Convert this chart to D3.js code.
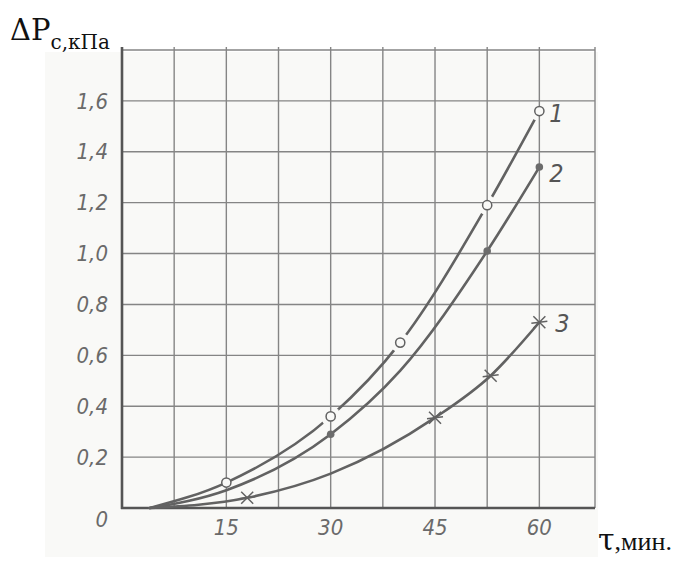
<!DOCTYPE html>
<html>
<head>
<meta charset="utf-8">
<script src="https://cdn.jsdelivr.net/npm/d3@7"></script>
<style>
  html, body { margin: 0; padding: 0; background: #ffffff; }
  svg { display: block; }
</style>
</head>
<body>
<svg id="chart" width="681" height="561"></svg>
<script>
// Time axis (minutes) and pressure-drop axis (kPa)
const xTicks = [15, 30, 45, 60];
const xGrid = [0, 7.5, 15, 22.5, 30, 37.5, 45, 52.5, 60];
const yTicks = [0, 0.2, 0.4, 0.6, 0.8, 1.0, 1.2, 1.4, 1.6];
const yTickLabels = ["0", "0,2", "0,4", "0,6", "0,8", "1,0", "1,2", "1,4", "1,6"];

// Curve 1: open circles at measured points
const curve1X = [4, 15, 30, 40, 52.5, 60];
const curve1Y = [0, 0.10, 0.36, 0.65, 1.19, 1.56];
const curve1Marked = [false, true, true, true, true, true];

// Curve 2: filled dots at measured points
const curve2X = [4, 15, 30, 40, 52.5, 60];
const curve2Y = [0, 0.07, 0.29, 0.54, 1.01, 1.34];
const curve2Marked = [false, false, true, false, true, true];

// Curve 3: star marks at measured points
const curve3X = [4, 18, 30, 45, 53, 60];
const curve3Y = [0, 0.04, 0.135, 0.355, 0.52, 0.73];
const curve3Marked = [false, true, false, true, true, true];

const curveNames = ["1", "2", "3"];

const svg = d3.select("#chart");
const paper = "#f9f9f7";
const ink = "#626262";

// Paper sheet behind the plot
svg.append("rect")
  .attr("x", 45).attr("y", 52).attr("width", 553).attr("height", 505)
  .attr("fill", paper);

const x = d3.scaleLinear().domain([0, 68]).range([122, 595]);
const y = d3.scaleLinear().domain([0, 1.8]).range([508, 50]);

// Grid
const grid = svg.append("g");
grid.selectAll("line.v").data(xGrid.slice(1).concat([68])).join("line")
  .attr("x1", d => x(d)).attr("x2", d => x(d))
  .attr("y1", y(1.8) - 3).attr("y2", y(0))
  .attr("stroke", "#858585").attr("stroke-width", 1.4);
grid.selectAll("line.h").data(yTicks.slice(1).concat([1.8])).join("line")
  .attr("x1", x(0)).attr("x2", x(68))
  .attr("y1", d => y(d)).attr("y2", d => y(d))
  .attr("stroke", "#858585").attr("stroke-width", 1.4);

// Main axes
svg.append("line")
  .attr("x1", x(0)).attr("x2", x(0)).attr("y1", y(1.8) - 3).attr("y2", y(0) + 1)
  .attr("stroke", "#555").attr("stroke-width", 2.6);
svg.append("line")
  .attr("x1", x(0) - 1).attr("x2", x(68)).attr("y1", y(0)).attr("y2", y(0))
  .attr("stroke", "#555").attr("stroke-width", 2.6);

// Tick labels
const tickFont = "'DejaVu Sans Condensed', 'Liberation Sans', sans-serif";
svg.append("g").selectAll("text").data(yTicks).join("text")
  .attr("x", 108)
  .attr("y", (d, i) => y(d) + (d === 0 ? 11 : 0))
  .attr("dy", "0.35em")
  .attr("text-anchor", "end")
  .attr("font-family", tickFont).attr("font-style", "italic")
  .attr("font-size", 22).attr("fill", "#6a6a6a")
  .text((d, i) => yTickLabels[i]);
svg.append("g").selectAll("text").data(xTicks).join("text")
  .attr("x", d => x(d))
  .attr("y", 527).attr("dy", "0.35em")
  .attr("text-anchor", "middle")
  .attr("font-family", tickFont).attr("font-style", "italic")
  .attr("font-size", 22).attr("fill", "#6a6a6a")
  .text(d => d);

// Curves
const series = [
  { xs: curve1X, ys: curve1Y, marked: curve1Marked },
  { xs: curve2X, ys: curve2Y, marked: curve2Marked },
  { xs: curve3X, ys: curve3Y, marked: curve3Marked }
].map(s => s.xs.map((v, i) => ({ t: v, p: s.ys[i], m: s.marked[i] })));

const line = d3.line().x(d => x(d.t)).y(d => y(d.p)).curve(d3.curveMonotoneX);

// Curve 1 is drawn broken around its circles
const defs = svg.append("defs");
const mask = defs.append("mask").attr("id", "gaps1")
  .attr("maskUnits", "userSpaceOnUse")
  .attr("x", 0).attr("y", 0).attr("width", 681).attr("height", 561);
mask.append("rect").attr("width", 681).attr("height", 561).attr("fill", "white");
mask.selectAll("circle").data(series[0].filter(d => d.m && d.t > 20)).join("circle")
  .attr("cx", d => x(d.t)).attr("cy", d => y(d.p)).attr("r", 10).attr("fill", "black");

series.forEach((pts, i) => {
  svg.append("path")
    .datum(pts)
    .attr("d", line)
    .attr("fill", "none")
    .attr("stroke", ink)
    .attr("stroke-width", 2.6)
    .attr("stroke-linecap", "round")
    .attr("mask", i === 0 ? "url(#gaps1)" : null);
});

// Markers
svg.append("g").selectAll("circle").data(series[0].filter(d => d.m)).join("circle")
  .attr("cx", d => x(d.t)).attr("cy", d => y(d.p)).attr("r", 4.6)
  .attr("fill", paper).attr("stroke", ink).attr("stroke-width", 1.5);
svg.append("g").selectAll("circle").data(series[1].filter(d => d.m)).join("circle")
  .attr("cx", d => x(d.t)).attr("cy", d => y(d.p)).attr("r", 3.8)
  .attr("fill", "#6c6c6c");
svg.append("g").selectAll("path").data(series[2].filter(d => d.m)).join("path")
  .attr("transform", d => `translate(${x(d.t)},${y(d.p)})`)
  .attr("d", "M-6,-6L6,6M-6,6L6,-6M-8,1L8,-1")
  .attr("fill", "none").attr("stroke", ink).attr("stroke-width", 1.5);

// Curve numbers next to the last points
const labelOffsets = [[17, 2], [17, 6], [23, 1]];
svg.append("g").selectAll("text").data(series).join("text")
  .attr("x", (d, i) => x(d[d.length - 1].t) + labelOffsets[i][0])
  .attr("y", (d, i) => y(d[d.length - 1].p) + labelOffsets[i][1])
  .attr("dy", "0.35em")
  .attr("text-anchor", "middle")
  .attr("font-family", tickFont).attr("font-style", "italic")
  .attr("font-size", 25).attr("fill", "#555")
  .text((d, i) => curveNames[i]);

// Axis titles
const title = svg.append("text")
  .attr("x", 10).attr("y", 40)
  .attr("font-family", "'DejaVu Serif', 'Liberation Serif', serif")
  .attr("font-size", 29).attr("fill", "#111");
title.append("tspan").text("ΔP");
title.append("tspan").attr("dy", 9).attr("font-size", 20).text("с,кПа");

const xTitle = svg.append("text")
  .attr("x", 598).attr("y", 550)
  .attr("font-family", "'Liberation Serif', 'DejaVu Serif', serif")
  .attr("font-size", 26).attr("fill", "#111");
xTitle.append("tspan")
  .attr("font-family", "'DejaVu Serif', serif")
  .attr("font-size", 30).text("τ");
xTitle.append("tspan").text(",мин.");
</script>
</body>
</html>
